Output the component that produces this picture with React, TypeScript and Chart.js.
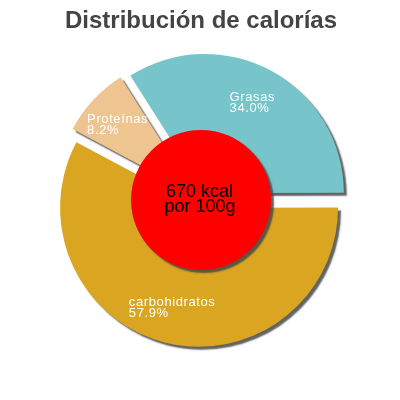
import React, { useRef, useEffect } from "react";
import { Chart, registerables, Plugin } from "chart.js";

Chart.register(...registerables);

const chartTitle = "Distribución de calorías";
const categories = ["Grasas", "carbohidratos", "Proteínas"];
const percentages = [34.0, 57.9, 8.2];
const centerLines = ["670 kcal", "por 100g"];

const sliceColors = ["#78c4cb", "#daa520", "#eec591"];
const FONT = "'Liberation Sans', Arial, sans-serif";
const EXPLODE = 8;

// draws each slice pushed out along its middle angle, with a grey drop shadow,
// then the labels and the red centre disc
const explodedPlugin: Plugin<"doughnut"> = {
  id: "explodedSlices",
  beforeDatasetDraw(chart, args) {
    const ctx = chart.ctx;
    const meta = chart.getDatasetMeta(args.index);
    ctx.save();
    ctx.shadowColor = "rgba(70,70,70,0.85)";
    ctx.shadowOffsetX = 3;
    ctx.shadowOffsetY = 3;
    ctx.shadowBlur = 1.5;
    meta.data.forEach((el: any) => {
      const mid = (el.startAngle + el.endAngle) / 2;
      ctx.save();
      ctx.translate(Math.cos(mid) * EXPLODE, Math.sin(mid) * EXPLODE);
      el.draw(ctx);
      ctx.restore();
    });
    ctx.restore();
    return false;
  },
  afterDatasetsDraw(chart) {
    const ctx = chart.ctx;
    const meta = chart.getDatasetMeta(0);
    const first: any = meta.data[0];
    if (!first) return;
    const cx = first.x;
    const cy = first.y;

    // slice labels
    ctx.save();
    ctx.font = `13px ${FONT}`;
    (ctx as any).letterSpacing = "0.6px";
    ctx.fillStyle = "#ffffff";
    ctx.textBaseline = "alphabetic";
    ctx.textAlign = "left";
    meta.data.forEach((el: any, i: number) => {
      const mid = (el.startAngle + el.endAngle) / 2;
      const r = 111;
      const px = cx + Math.cos(mid) * r;
      const py = cy + Math.sin(mid) * r;
      const lines = [categories[i], percentages[i].toFixed(1) + "%"];
      const w = Math.max(...lines.map((l) => ctx.measureText(l).width));
      lines.forEach((l, k) => ctx.fillText(l, px - w / 2 - 2, py - 2 + k * 11));
    });
    ctx.restore();

    // red centre disc
    ctx.save();
    ctx.shadowColor = "rgba(70,70,70,0.85)";
    ctx.shadowOffsetX = 3;
    ctx.shadowOffsetY = 3;
    ctx.shadowBlur = 1.5;
    ctx.fillStyle = "#ff0000";
    ctx.beginPath();
    ctx.arc(cx, cy, 70, 0, Math.PI * 2);
    ctx.fill();
    ctx.restore();

    ctx.save();
    ctx.font = `18px ${FONT}`;
    ctx.fillStyle = "#000000";
    ctx.textAlign = "center";
    ctx.textBaseline = "alphabetic";
    ctx.fillText(centerLines[0], cx - 1.5, cy - 3.5);
    ctx.fillText(centerLines[1], cx - 1, cy + 11.5);
    ctx.restore();
  },
};

const CaloriesDoughnut = () => {
  const chartRef = useRef<HTMLCanvasElement>(null);
  const chartInstanceRef = useRef<Chart | null>(null);

  useEffect(() => {
    if (chartRef.current && !chartInstanceRef.current) {
      const context = chartRef.current.getContext("2d");
      if (context) {
        chartInstanceRef.current = new Chart(context, {
          type: "doughnut",
          data: {
            labels: categories,
            datasets: [
              {
                data: percentages,
                backgroundColor: sliceColors,
                borderWidth: 0,
              },
            ],
          },
          options: {
            animation: false,
            responsive: true,
            maintainAspectRatio: false,
            rotation: -32.4,
            radius: 139,
            cutout: 50,
            events: [],
            layout: {
              padding: { left: 2, right: 0, top: 0, bottom: 40 },
            },
            plugins: {
              legend: { display: false },
              tooltip: { enabled: false },
              title: {
                display: true,
                text: chartTitle,
                color: "#444444",
                font: { size: 24, weight: "bold", family: FONT },
                padding: { top: 7, bottom: 4.2 },
              },
            },
          },
          plugins: [explodedPlugin],
        });
      }
    }
    return () => {
      if (chartInstanceRef.current) {
        chartInstanceRef.current.destroy();
        chartInstanceRef.current = null;
      }
    };
  }, []);

  return (
    <div style={{ position: "fixed", left: 0, top: 0, width: 400, height: 400, background: "#fff" }}>
      <canvas ref={chartRef} />
    </div>
  );
};

export default function App() {
  return <CaloriesDoughnut />;
}
